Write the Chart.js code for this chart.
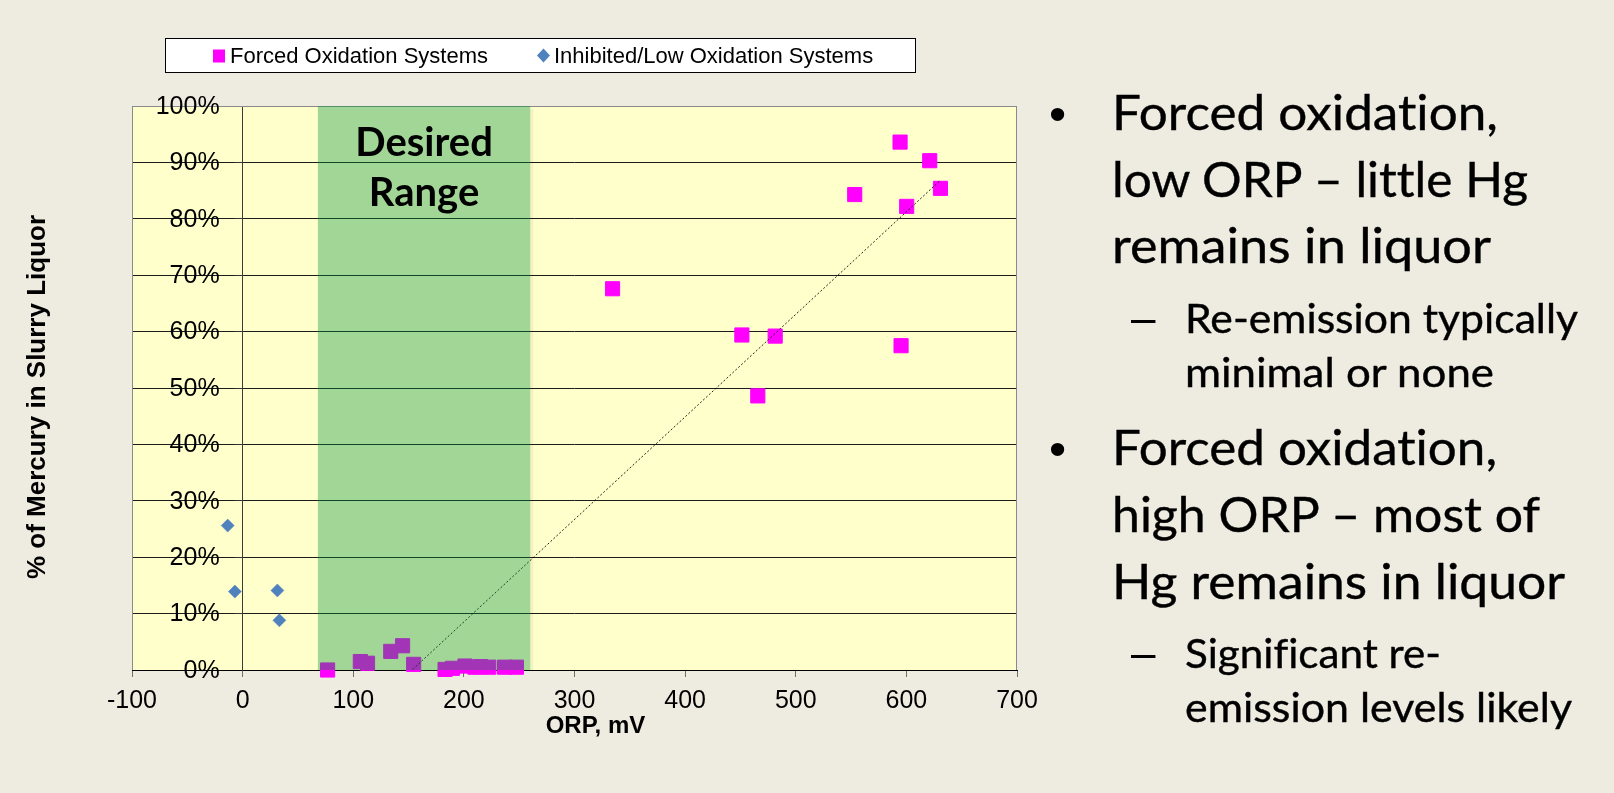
<!DOCTYPE html>
<html>
<head>
<meta charset="utf-8">
<script src="https://cdn.jsdelivr.net/npm/chart.js@4.4.1/dist/chart.umd.min.js"></script>
<style>
  html, body { margin: 0; padding: 0; background: #EEECE1; }
  #wrap { position: relative; width: 1614px; height: 793px; overflow: hidden; background: #EEECE1; }
  #chart { position: absolute; left: 0; top: 0; }
  #notes { position: absolute; left: 0; top: 0; }
  #notes text {
    font-family: Lato, "Open Sans", sans-serif;
    fill: #000;
    stroke: #000;
    stroke-width: 0.4;
    font-variant-ligatures: none;
    font-feature-settings: "liga" 0, "clig" 0, "dlig" 0;
  }
  #notes text.glyph { font-family: "Liberation Sans", Arial, sans-serif; stroke: none; }
</style>
</head>
<body>
<div id="wrap">
  <canvas id="chart" width="1614" height="793"></canvas>
  <svg id="notes" width="1614" height="793" xmlns="http://www.w3.org/2000/svg">
    <!-- first point -->
    <text class="glyph" x="1049" y="130" font-size="49">•</text>
    <text x="1112" y="130" font-size="49" textLength="386" lengthAdjust="spacingAndGlyphs">Forced oxidation,</text>
    <text x="1112" y="197" font-size="49" textLength="416" lengthAdjust="spacingAndGlyphs">low ORP – little Hg</text>
    <text x="1112" y="263" font-size="49" textLength="379" lengthAdjust="spacingAndGlyphs">remains in liquor</text>
    <text class="glyph" x="1131" y="333" font-size="44">–</text>
    <text x="1185" y="333" font-size="40" textLength="393" lengthAdjust="spacingAndGlyphs">Re-emission typically</text>
    <text x="1185" y="387" font-size="40" textLength="309" lengthAdjust="spacingAndGlyphs">minimal or none</text>
    <!-- second point -->
    <text class="glyph" x="1049" y="465" font-size="49">•</text>
    <text x="1112" y="465" font-size="49" textLength="385" lengthAdjust="spacingAndGlyphs">Forced oxidation,</text>
    <text x="1112" y="532" font-size="49" textLength="428" lengthAdjust="spacingAndGlyphs">high ORP – most of</text>
    <text x="1112" y="599" font-size="49" textLength="453" lengthAdjust="spacingAndGlyphs">Hg remains in liquor</text>
    <text class="glyph" x="1131" y="668" font-size="44">–</text>
    <text x="1185" y="668" font-size="40" textLength="256" lengthAdjust="spacingAndGlyphs">Significant re-</text>
    <text x="1185" y="722" font-size="40" textLength="387" lengthAdjust="spacingAndGlyphs">emission levels likely</text>
  </svg>
</div>
<script>
// ORP (mV) and share of mercury left in the slurry liquor (%), per system type
const ORP_FORCED = [76.8, 106.4, 112.9, 133.9, 144.6, 154.6, 183, 189.6, 201, 210, 215, 222.5,
                    236.8, 247.5, 334.4, 451.3, 465.7, 481.4, 553.3, 594.3, 595.2, 600.3, 621.1, 630.8];
const HG_FORCED  = [0, 1.5, 1.2, 3.3, 4.3, 1.0, 0.1, 0.3, 0.7, 0.5, 0.6, 0.5,
                    0.5, 0.5, 67.6, 59.4, 48.6, 59.2, 84.3, 93.6, 57.5, 82.2, 90.3, 85.4];
const ORP_INHIBITED = [-13.5, -7, 31.4, 33.2];
const HG_INHIBITED  = [25.6, 13.9, 14.1, 8.8];

const SERIES_NAMES = ['Forced Oxidation Systems', 'Inhibited/Low Oxidation Systems'];
const X_TICKS = { min: -100, max: 700, step: 100 };
const Y_TICKS = { min: 0, max: 100, step: 10 };
const DESIRED_ORP = [68, 260];
const DESIRED_LABEL = ['Desired', 'Range'];
const X_TITLE = 'ORP, mV';
const Y_TITLE = '% of Mercury in Slurry Liquor';

const AXIS_FONT = '"Liberation Sans", Arial, sans-serif';
const MAGENTA = '#FF00FF';
const BLUE = '#4F81BD';
const TICK_LEN = 7;
const Y_LABEL_GAP = 16;

// least-squares linear trend of the forced oxidation systems
function linearFit(xs, ys) {
  const n = xs.length;
  const mx = xs.reduce((a, b) => a + b, 0) / n;
  const my = ys.reduce((a, b) => a + b, 0) / n;
  let sxy = 0, sxx = 0;
  for (let i = 0; i < n; i++) {
    sxy += (xs[i] - mx) * (ys[i] - my);
    sxx += (xs[i] - mx) * (xs[i] - mx);
  }
  const slope = sxy / sxx;
  return { slope, intercept: my - slope * mx };
}
const fit = linearFit(ORP_FORCED, HG_FORCED);
const trendX = [Math.min(...ORP_FORCED), Math.max(...ORP_FORCED)];
const trendPoints = trendX.map(x => ({ x, y: fit.intercept + fit.slope * x }));

const toPoints = (xs, ys) => xs.map((x, i) => ({ x, y: ys[i] }));

// plot background and frame
const plotFrame = {
  id: 'plotFrame',
  beforeDraw(chart) {
    const { ctx, chartArea: a } = chart;
    ctx.save();
    ctx.fillStyle = '#FFFFCC';
    ctx.fillRect(a.left, a.top, a.right - a.left, a.bottom - a.top);
    ctx.restore();
  },
  beforeDatasetsDraw(chart) {
    const { ctx, chartArea: a } = chart;
    ctx.save();
    ctx.strokeStyle = '#8a8a8a';
    ctx.lineWidth = 1;
    ctx.beginPath();
    ctx.moveTo(Math.round(a.left) + 0.5, Math.round(a.bottom));
    ctx.lineTo(Math.round(a.left) + 0.5, Math.round(a.top) + 0.5);
    ctx.lineTo(Math.round(a.right) - 0.5, Math.round(a.top) + 0.5);
    ctx.lineTo(Math.round(a.right) - 0.5, Math.round(a.bottom));
    ctx.stroke();
    ctx.restore();
  }
};

// value labels of the y axis, set beside the axis line that crosses at ORP = 0
const yAxisLabels = {
  id: 'yAxisLabels',
  afterDraw(chart) {
    const { ctx, scales: { x, y } } = chart;
    const right = x.getPixelForValue(0) - TICK_LEN - Y_LABEL_GAP;
    ctx.save();
    ctx.fillStyle = '#000';
    ctx.font = '25px ' + AXIS_FONT;
    ctx.textAlign = 'right';
    ctx.textBaseline = 'middle';
    y.ticks.forEach(t => {
      ctx.fillText(t.value + '%', right, y.getPixelForValue(t.value) + 1);
    });
    ctx.restore();
  }
};

// shaded target ORP window with its caption
const desiredBand = {
  id: 'desiredBand',
  afterDatasetsDraw(chart) {
    const { ctx, chartArea: a, scales: { x, y } } = chart;
    const x1 = x.getPixelForValue(DESIRED_ORP[0]);
    const x2 = x.getPixelForValue(DESIRED_ORP[1]);
    const yBottom = y.getPixelForValue(0);
    ctx.save();
    ctx.fillStyle = 'rgba(0,144,58,0.37)';
    ctx.fillRect(x1, a.top, x2 - x1, yBottom - a.top);
    // soft edge on the right and lower sides
    ctx.fillStyle = 'rgba(0,0,0,0.05)';
    ctx.fillRect(x2, a.top + 3, 3, yBottom - a.top - 3);
    ctx.restore();

    ctx.save();
    ctx.fillStyle = '#000';
    ctx.font = 'bold 40px Lato, "Open Sans", sans-serif';
    ctx.textAlign = 'center';
    ctx.textBaseline = 'alphabetic';
    const cx = (x1 + x2) / 2;
    ctx.fillText(DESIRED_LABEL[0], cx, a.top + 50);
    ctx.fillText(DESIRED_LABEL[1], cx, a.top + 100);
    ctx.restore();
  }
};

// axis titles
const axisTitles = {
  id: 'axisTitles',
  afterDraw(chart) {
    const { ctx, chartArea: a } = chart;
    ctx.save();
    ctx.fillStyle = '#000';
    ctx.font = 'bold 24px ' + AXIS_FONT;
    ctx.textAlign = 'center';
    ctx.textBaseline = 'alphabetic';
    ctx.fillText(X_TITLE, (a.left + a.right) / 2 + 21, a.bottom + 63);
    ctx.translate(38, (a.top + a.bottom) / 2 + 9);
    ctx.rotate(-Math.PI / 2);
    ctx.font = 'bold 26px ' + AXIS_FONT;
    ctx.textBaseline = 'middle';
    ctx.fillText(Y_TITLE, 0, 0);
    ctx.restore();
  }
};

// boxed legend above the plot
const boxedLegend = {
  id: 'boxedLegend',
  afterDraw(chart) {
    const { ctx } = chart;
    const box = { left: 165, top: 38, width: 751, height: 35 };
    ctx.save();
    ctx.fillStyle = '#fff';
    ctx.fillRect(box.left, box.top, box.width, box.height);
    ctx.strokeStyle = '#000';
    ctx.lineWidth = 1;
    ctx.strokeRect(box.left + 0.5, box.top + 0.5, box.width - 1, box.height - 1);

    ctx.font = '22px ' + AXIS_FONT;
    ctx.textBaseline = 'middle';
    ctx.textAlign = 'left';
    const cy = box.top + box.height / 2;
    const series = chart.data.datasets.filter(d => d.inLegend);
    let xPos = 213;
    series.forEach(ds => {
      ctx.fillStyle = ds.backgroundColor;
      if (ds.pointStyle === 'rect') {
        ctx.fillRect(xPos, cy - 6, 12, 13);
      } else {
        ctx.beginPath();
        ctx.moveTo(xPos + 6.5, cy - 7);
        ctx.lineTo(xPos + 13, cy);
        ctx.lineTo(xPos + 6.5, cy + 7);
        ctx.lineTo(xPos, cy);
        ctx.closePath();
        ctx.fill();
      }
      ctx.fillStyle = '#000';
      const tx = xPos + 17;
      ctx.fillText(ds.label, tx, cy + 1);
      xPos = tx + ctx.measureText(ds.label).width + 49;
    });
    ctx.restore();
  }
};

new Chart(document.getElementById('chart'), {
  type: 'scatter',
  data: {
    datasets: [
      {
        label: 'Linear trend',
        data: trendPoints,
        showLine: true,
        borderColor: 'rgba(0,0,0,0.85)',
        borderWidth: 1,
        borderDash: [2, 2],
        pointRadius: 0,
        order: 0
      },
      {
        label: SERIES_NAMES[0],
        inLegend: true,
        data: toPoints(ORP_FORCED, HG_FORCED),
        pointStyle: 'rect',
        pointRadius: 10,
        backgroundColor: MAGENTA,
        borderColor: MAGENTA,
        borderWidth: 1,
        clip: false,
        order: 1
      },
      {
        label: SERIES_NAMES[1],
        inLegend: true,
        data: toPoints(ORP_INHIBITED, HG_INHIBITED),
        pointStyle: 'rectRot',
        pointRadius: 6.5,
        backgroundColor: BLUE,
        borderColor: BLUE,
        borderWidth: 0.5,
        clip: false,
        order: 2
      }
    ]
  },
  options: {
    responsive: false,
    animation: false,
    devicePixelRatio: 1,
    layout: { padding: { left: 132, right: 597, top: 106, bottom: 63 } },
    plugins: { legend: { display: false }, tooltip: { enabled: false } },
    elements: { point: { hoverRadius: 10 } },
    scales: {
      x: {
        type: 'linear',
        min: X_TICKS.min,
        max: X_TICKS.max,
        position: 'bottom',
        ticks: {
          stepSize: X_TICKS.step,
          color: '#000',
          font: { family: AXIS_FONT, size: 25 },
          padding: 9,
          maxRotation: 0,
          autoSkip: false
        },
        grid: { drawOnChartArea: false, drawTicks: true, tickLength: TICK_LEN, color: '#6e6e6e' },
        border: { color: '#000', width: 1 },
        afterFit(scale) { scale.height = 60; }
      },
      y: {
        type: 'linear',
        min: Y_TICKS.min,
        max: Y_TICKS.max,
        position: { x: 0 },
        ticks: { stepSize: Y_TICKS.step, display: false },
        grid: {
          color: c => (c.tick && c.tick.value === Y_TICKS.max) ? '#8a8a8a' : '#1c1c1c',
          tickColor: '#333',
          tickLength: TICK_LEN,
          drawTicks: true
        },
        border: { color: '#3c3c3c', width: 1 }
      }
    }
  },
  plugins: [plotFrame, desiredBand, yAxisLabels, axisTitles, boxedLegend]
});
</script>
</body>
</html>
